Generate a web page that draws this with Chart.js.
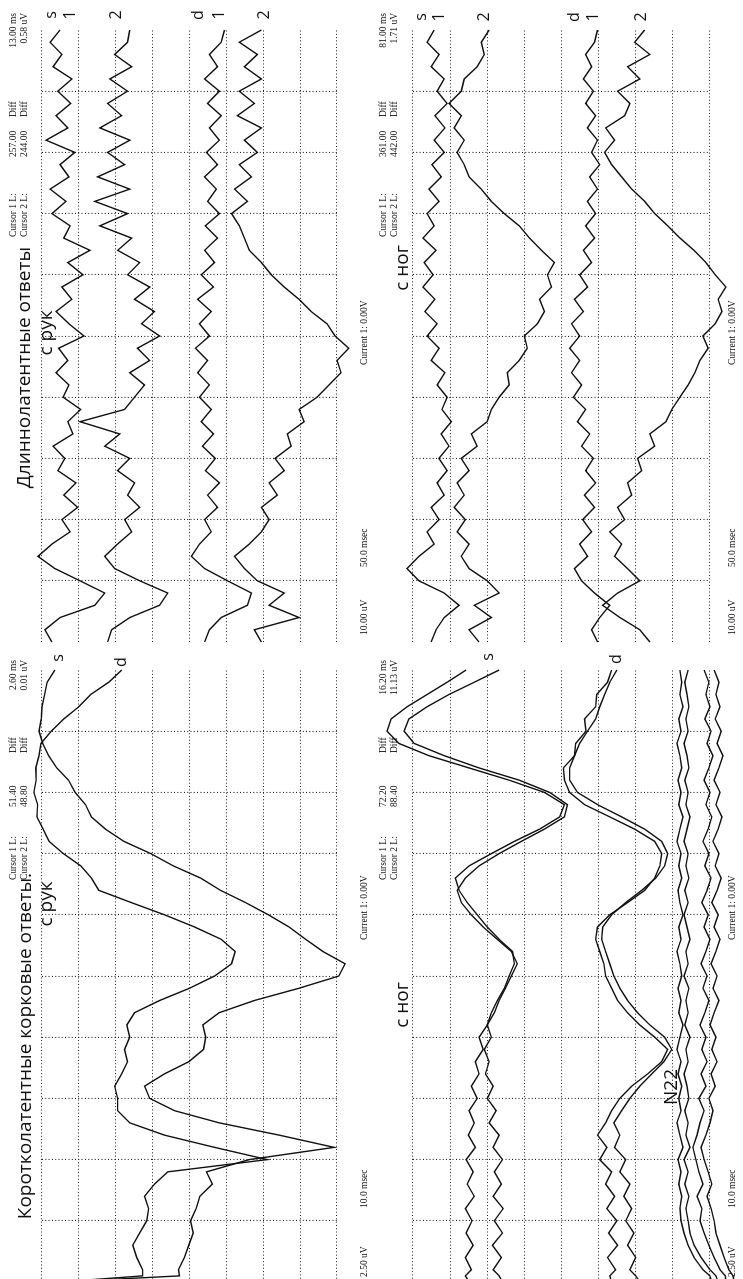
<!DOCTYPE html>
<html>
<head>
<meta charset="utf-8">
<script src="https://cdn.jsdelivr.net/npm/chart.js@4.4.1/dist/chart.umd.min.js"></script>
<style>
html, body { margin: 0; padding: 0; background: #fff; }
body { width: 743px; height: 1279px; overflow: hidden; position: relative; }
/* the figure is laid out landscape, then turned a quarter turn counter-clockwise */
#fig { position: absolute; left: 0; top: 0; width: 1279px; height: 743px; transform-origin: 0 0; transform: translateY(1279px) rotate(-90deg); }
#fig canvas { position: absolute; }
.t { position: absolute; white-space: nowrap; line-height: 1; color: #111; }
.title { font-family: "Open Sans", sans-serif; font-size: 19px; transform: translateY(-50%); }
.sub { font-family: "Open Sans", sans-serif; font-size: 19px; transform: translate(-50%, -50%); }
.small { font-family: "Liberation Serif", serif; font-size: 9.5px; transform: translateY(-50%); }
.lab { font-family: "Open Sans", sans-serif; font-size: 16px; transform: translate(-50%, -50%); }
</style>
</head>
<body>
<div id="fig">
  <canvas id="shortHand" width="622" height="375" style="left:-3px;top:0"></canvas>
  <canvas id="longHand" width="640" height="375" style="left:630px;top:0"></canvas>
  <canvas id="shortLeg" width="622" height="368" style="left:-3px;top:375px"></canvas>
  <canvas id="longLeg" width="640" height="368" style="left:630px;top:375px"></canvas>
</div>
<script>
// time axes, ms
const T_SHORT = [0,1,2,4,6,8,10,12,14,16,18,20,22,24,26,28,30,32,34,36,38,40,42,44,46,48,50,52,54,56,58,60,62,64,66,68,70,72,74,76,78,80,82,84,86,88,90,92,94,96,98,100];
const T_LONG = [0,10,20,30,40,50,60,70,80,90,100,110,120,130,140,150,160,170,180,190,200,210,220,230,240,250,260,270,280,290,300,310,320,330,340,350,360,370,380,390,400,410,420,430,440,450,460,470,480,490,500];

// amplitudes in screen divisions (up = negative polarity)
// short latency, hands (2.50 uV/div)
const HAND_SHORT_S = [3.51,0.27,0.30,0.14,0.02,-0.10,-0.03,-0.18,-0.28,-0.62,-0.46,-1.62,-3.92,-2.43,-0.81,0.41,1.08,1.22,0.68,0.02,-0.38,-0.44,-0.36,-0.80,-1.76,-2.97,-4.05,-4.22,-3.62,-3.15,-2.70,-2.14,-1.52,-0.84,-0.30,0.44,1.05,1.78,2.28,2.66,2.82,3.10,3.28,3.60,3.82,3.98,4.08,4.02,4.00,3.93,3.86,3.65];
const HAND_SHORT_D = [3.51,1.27,1.27,1.43,1.54,1.35,1.16,1.11,1.22,0.95,0.59,-2.11,-0.68,0.68,1.62,1.95,1.95,2.03,1.84,1.68,1.76,1.62,1.70,1.49,0.81,0.00,-0.68,-1.14,-1.24,-0.86,-0.14,0.68,1.58,2.46,2.66,2.95,3.42,3.81,3.97,4.14,4.12,4.22,4.16,4.17,4.08,4.03,3.75,3.41,3.00,2.68,2.19,1.84];

// short latency, legs
const LEG_SHORT_S1 = [2.49,2.59,2.43,2.59,2.38,2.57,2.41,2.59,2.35,2.54,2.38,2.57,2.32,2.51,2.35,2.49,2.27,2.43,2.22,2.32,2.11,2.22,2.00,1.89,1.73,1.54,1.41,1.27,1.32,1.68,2.00,2.27,2.54,2.76,2.86,2.49,1.89,1.27,0.59,0.05,-0.08,0.46,1.41,2.49,3.57,4.38,4.70,4.59,4.16,3.62,3.08,2.57];
const LEG_SHORT_S2 = [1.59,1.68,1.84,1.62,1.86,1.59,1.81,1.57,1.84,1.62,1.81,1.59,1.84,1.68,1.95,1.76,2.00,1.84,2.05,1.95,2.08,1.89,2.00,1.81,1.68,1.51,1.35,1.19,1.35,1.73,2.11,2.43,2.70,2.81,2.59,2.22,1.68,1.08,0.46,-0.08,-0.16,0.32,1.14,2.22,3.16,3.97,4.24,4.11,3.62,3.03,2.35,1.68];
const LEG_SHORT_D1 = [-1.35,-1.30,-1.46,-1.24,-1.51,-1.27,-1.49,-1.22,-1.43,-1.19,-1.35,-1.03,-1.22,-0.97,-1.19,-1.35,-1.57,-1.89,-2.32,-2.70,-2.86,-2.51,-2.11,-1.78,-1.51,-1.35,-1.19,-1.14,-1.03,-0.92,-0.97,-1.30,-1.78,-2.24,-2.51,-2.65,-2.70,-2.51,-1.97,-1.30,-0.62,-0.22,-0.08,-0.05,-0.35,-0.38,-0.66,-0.62,-0.92,-0.95,-1.24,-1.35];
const LEG_SHORT_D2 = [-2.11,-2.00,-1.84,-2.00,-1.78,-1.95,-1.73,-1.89,-1.68,-1.84,-1.57,-1.73,-1.43,-1.57,-1.41,-1.62,-1.84,-2.11,-2.43,-2.76,-2.97,-2.78,-2.38,-2.05,-1.78,-1.57,-1.41,-1.30,-1.19,-1.08,-1.11,-1.35,-1.73,-2.16,-2.54,-2.78,-2.86,-2.70,-2.24,-1.62,-0.97,-0.43,-0.22,-0.22,-0.35,-0.49,-0.70,-0.92,-1.03,-1.16,-1.30,-1.49];
const LEG_SHORT_N1 = [-4.05,-4.00,-3.81,-3.57,-3.41,-3.30,-3.22,-3.19,-3.24,-3.16,-3.22,-3.14,-3.27,-3.19,-3.11,-3.22,-3.16,-3.24,-3.14,-3.22,-3.11,-3.19,-3.27,-3.16,-3.22,-3.14,-3.24,-3.19,-3.11,-3.22,-3.16,-3.27,-3.19,-3.14,-3.24,-3.16,-3.22,-3.11,-3.19,-3.27,-3.16,-3.22,-3.14,-3.24,-3.19,-3.11,-3.22,-3.16,-3.27,-3.19,-3.24,-3.19];
const LEG_SHORT_N2 = [-4.22,-4.16,-4.00,-3.76,-3.57,-3.46,-3.41,-3.35,-3.43,-3.32,-3.41,-3.30,-3.46,-3.35,-3.41,-3.32,-3.43,-3.38,-3.30,-3.41,-3.35,-3.46,-3.32,-3.41,-3.35,-3.43,-3.30,-3.41,-3.35,-3.46,-3.38,-3.30,-3.41,-3.32,-3.43,-3.35,-3.41,-3.30,-3.38,-3.46,-3.35,-3.41,-3.32,-3.43,-3.38,-3.30,-3.41,-3.35,-3.43,-3.38,-3.32,-3.41];
const LEG_SHORT_N3 = [-4.43,-4.41,-4.27,-4.11,-3.97,-3.84,-3.73,-3.78,-3.65,-3.81,-3.70,-3.62,-3.54,-3.65,-3.73,-3.84,-3.70,-3.89,-3.76,-3.92,-3.78,-3.89,-3.73,-3.86,-3.97,-3.81,-3.92,-3.76,-3.89,-4.00,-3.84,-3.95,-3.78,-3.92,-4.03,-3.86,-3.97,-3.81,-3.95,-4.05,-3.89,-4.00,-3.84,-3.97,-4.08,-3.92,-4.03,-3.86,-4.00,-3.89,-3.97,-3.84];
const LEG_SHORT_N4 = [-4.65,-4.62,-4.51,-4.38,-4.27,-4.16,-4.11,-4.03,-3.92,-4.05,-3.95,-3.84,-3.76,-3.89,-4.00,-4.08,-3.97,-4.14,-4.03,-4.19,-4.05,-4.16,-4.00,-4.11,-4.24,-4.08,-4.19,-4.03,-4.16,-4.27,-4.11,-4.22,-4.05,-4.19,-4.30,-4.14,-4.24,-4.08,-4.22,-4.32,-4.16,-4.27,-4.11,-4.24,-4.35,-4.19,-4.30,-4.14,-4.27,-4.16,-4.24,-4.11];

// long latency, hands (10.00 uV/div)
const HAND_LONG_S1 = [3.73,3.92,3.51,2.57,2.30,2.97,3.65,4.11,3.73,3.24,3.46,3.03,3.41,3.08,3.57,3.38,3.70,3.16,3.30,2.95,3.43,3.27,3.62,3.30,3.55,2.86,3.27,3.62,3.19,3.46,2.89,3.30,2.70,3.41,3.24,3.73,3.35,3.78,3.27,3.51,3.11,3.89,3.30,3.62,3.22,3.57,3.19,3.70,3.46,3.78,3.51];
const HAND_LONG_S2 = [2.22,2.11,1.62,0.81,0.59,1.35,2.03,2.30,1.95,1.57,1.76,1.35,1.68,1.49,1.95,1.62,2.30,1.89,2.97,1.76,1.49,1.22,1.62,1.08,1.41,0.81,1.30,0.95,1.49,1.08,1.68,1.35,1.95,1.57,2.43,1.68,2.57,1.62,2.49,1.76,2.22,1.62,2.43,1.84,2.22,1.68,2.16,1.57,2.03,1.68,1.62];
const HAND_LONG_D1 = [-0.41,-0.54,-0.86,-1.57,-1.68,-1.03,-0.41,-0.05,-0.27,-0.59,-0.41,-0.76,-0.49,-0.81,-0.43,-0.70,-0.35,-0.65,-0.32,-0.59,-0.27,-0.54,-0.22,-0.49,-0.16,-0.54,-0.27,-0.59,-0.22,-0.65,-0.32,-0.68,-0.41,-0.76,-0.43,-0.81,-0.49,-0.73,-0.41,-0.76,-0.46,-0.81,-0.54,-0.86,-0.49,-0.81,-0.41,-0.76,-0.54,-0.86,-0.95];
const HAND_LONG_D2 = [-1.95,-1.76,-2.97,-2.16,-2.57,-1.84,-1.49,-1.22,-1.62,-1.95,-2.16,-1.95,-2.38,-2.16,-2.57,-2.32,-2.76,-2.65,-3.11,-2.97,-3.46,-3.78,-4.11,-4.00,-4.32,-3.95,-3.73,-3.30,-2.97,-2.57,-2.22,-1.95,-1.62,-1.49,-1.35,-1.14,-1.57,-1.22,-1.68,-1.35,-1.84,-1.49,-1.95,-1.30,-1.76,-1.35,-1.95,-1.49,-1.84,-1.35,-1.95];

// long latency, legs
const LEG_LONG_S1 = [3.51,3.38,3.16,2.76,3.16,3.84,4.16,3.84,3.43,3.62,3.30,3.51,3.16,3.35,3.08,3.30,3.03,3.24,2.97,3.22,3.08,3.35,3.14,3.51,3.30,3.62,3.35,3.68,3.41,3.73,3.46,3.70,3.38,3.73,3.43,3.62,3.30,3.57,3.24,3.49,3.16,3.43,3.14,3.41,3.08,3.35,3.16,3.51,3.30,3.62,3.43];
const LEG_LONG_S2 = [2.22,2.49,1.89,2.35,1.68,2.00,2.49,2.70,2.49,2.81,2.59,2.89,2.62,2.81,2.49,2.70,2.27,2.43,2.00,1.89,1.68,1.41,1.46,1.14,0.92,1.00,0.65,0.46,0.59,0.27,0.38,0.19,0.54,0.86,1.14,1.54,1.89,2.16,2.49,2.62,2.81,2.62,2.89,2.70,3.03,2.70,2.62,2.27,2.08,2.16,1.95];
const LEG_LONG_D1 = [-0.97,-0.81,-1.03,-1.30,-0.89,-0.54,-0.35,-0.70,-0.49,-0.81,-0.57,-0.89,-0.62,-0.92,-0.65,-0.86,-0.54,-0.76,-0.43,-0.65,-0.32,-0.54,-0.27,-0.49,-0.22,-0.49,-0.27,-0.59,-0.35,-0.70,-0.49,-0.81,-0.59,-0.89,-0.65,-0.92,-0.70,-0.97,-0.76,-1.03,-0.81,-0.97,-0.70,-0.92,-0.65,-0.86,-0.59,-0.81,-0.65,-0.89,-0.97];
const LEG_LONG_D2 = [-2.38,-2.11,-1.57,-1.11,-1.51,-2.11,-1.78,-1.43,-1.62,-1.30,-1.70,-1.51,-1.89,-1.78,-2.16,-2.05,-2.51,-2.38,-2.81,-2.97,-3.19,-3.41,-3.59,-3.73,-3.95,-3.81,-4.14,-4.32,-4.22,-4.43,-4.14,-3.89,-3.57,-3.19,-2.86,-2.51,-2.24,-1.89,-1.62,-1.35,-1.16,-1.43,-1.19,-1.70,-1.84,-1.51,-2.11,-1.78,-2.38,-1.97,-2.24];

// text on the figure: [text, x, y, class, anchor]
const LABELS = [
  ['Коротколатентные корковые ответы.', 873, 24, 'title', 'right'],
  ['Длиннолатентные ответы', 247, 23, 'title', 'right'],
  ['с рук', 375, 45, 'sub'],
  ['с рук', 946, 45, 'sub'],
  ['с ног', 274, 401, 'sub'],
  ['с ног', 1011, 401, 'sub'],
  ['N22', 192, 670, 'sub'],
  ['s', 621, 57, 'lab'], ['d', 617, 120, 'lab'],
  ['s', 622, 487, 'lab'], ['d', 620, 615, 'lab'],
  ['s', 1264, 50, 'lab'], ['1', 1264, 69, 'lab'], ['2', 1264, 115, 'lab'],
  ['d', 1264, 197, 'lab'], ['1', 1264, 218, 'lab'], ['2', 1264, 263, 'lab'],
  ['s', 1262, 420, 'lab'], ['1', 1262, 438, 'lab'], ['2', 1262, 483, 'lab'],
  ['d', 1262, 573, 'lab'], ['1', 1262, 592, 'lab'], ['2', 1262, 640, 'lab']
];

// cursor read-outs, one block per panel
const CURSORS = [
  { col: 'short', row: 0, c1: '51.40', c2: '48.80', d1: '2.60 ms', d2: '0.01 uV', gain: '2.50 uV', sweep: '10.0 msec' },
  { col: 'long', row: 0, c1: '257.00', c2: '244.00', d1: '13.00 ms', d2: '0.58 uV', gain: '10.00 uV', sweep: '50.0 msec' },
  { col: 'short', row: 1, c1: '72.20', c2: '88.40', d1: '16.20 ms', d2: '11.13 uV', gain: '2.50 uV', sweep: '10.0 msec' },
  { col: 'long', row: 1, c1: '361.00', c2: '442.00', d1: '81.00 ms', d2: '1.71 uV', gain: '10.00 uV', sweep: '50.0 msec' }
];

const fig = document.getElementById('fig');

function addText(text, x, y, cls, anchor) {
    const el = document.createElement('div');
    el.className = 't ' + cls;
    el.textContent = text;
    if (anchor === 'right') el.style.right = x + 'px';
    else el.style.left = x + 'px';
    el.style.top = y + 'px';
    fig.appendChild(el);
}

LABELS.forEach(l => addText(l[0], l[1], l[2], l[3], l[4]));

CURSORS.forEach(c => {
    const xs = c.col === 'short' ? [399, 472, 526, 660, 2, 71, 339] : [1042, 1122, 1162, 13, 644, 712, 914];
    const y1 = c.row === 0 ? 13.5 : 384;
    const y2 = c.row === 0 ? 24.5 : 395;
    const yb = c.row === 0 ? 365 : 733;
    addText('Cursor 1 L:', xs[0], y1, 'small');
    addText('Cursor 2 L:', xs[0], y2, 'small');
    addText(c.c1, xs[1], y1, 'small');
    addText(c.c2, xs[1], y2, 'small');
    addText('Diff', xs[2], y1, 'small');
    addText('Diff', xs[2], y2, 'small');
    addText(c.d1, xs[3], y1, 'small', 'right');
    addText(c.d2, xs[3], y2, 'small', 'right');
    addText(c.gain, xs[4], yb, 'small');
    addText(c.sweep, xs[5], yb, 'small');
    addText('Current 1: 0.00V', xs[6], yb, 'small');
});

function makePanel(id, times, traces, tMax, padding) {
    const dotted = '#1e1e1e';
    new Chart(document.getElementById(id), {
        type: 'line',
        data: {
            datasets: traces.map(values => ({
                data: times.map((t, i) => ({ x: t, y: values[i] })),
                borderColor: '#111',
                borderWidth: 1.4,
                pointRadius: 0,
                tension: 0,
                clip: false
            }))
        },
        options: {
            responsive: false,
            animation: false,
            events: [],
            layout: { padding: padding },
            plugins: { legend: { display: false }, tooltip: { enabled: false } },
            scales: {
                x: {
                    type: 'linear', min: 0, max: tMax,
                    ticks: { display: false, stepSize: tMax / 10 },
                    grid: {
                        drawTicks: false, lineWidth: 1.1,
                        color: c => (c.tick && (c.tick.value === 0 || c.tick.value === tMax)) ? 'rgba(0,0,0,0)' : dotted
                    },
                    border: { display: false, dash: [1, 2.3] },
                    afterFit: s => { s.height = 0; }
                },
                y: {
                    min: -4, max: 4,
                    ticks: { display: false, stepSize: 1 },
                    grid: { drawTicks: false, lineWidth: 1.1, color: dotted },
                    border: { display: false, dash: [1, 2.3] },
                    afterFit: s => { s.width = 0; }
                }
            }
        }
    });
}

makePanel('shortHand', T_SHORT, [HAND_SHORT_S, HAND_SHORT_D], 100, { left: 0, right: 10, top: 42, bottom: 38 });
makePanel('longHand', T_LONG, [HAND_LONG_S1, HAND_LONG_S2, HAND_LONG_D1, HAND_LONG_D2], 500, { left: 7, right: 21, top: 42, bottom: 38 });
makePanel('shortLeg', T_SHORT, [LEG_SHORT_S1, LEG_SHORT_S2, LEG_SHORT_D1, LEG_SHORT_D2, LEG_SHORT_N1, LEG_SHORT_N2, LEG_SHORT_N3, LEG_SHORT_N4], 100, { left: 0, right: 10, top: 38, bottom: 33 });
makePanel('longLeg', T_LONG, [LEG_LONG_S1, LEG_LONG_S2, LEG_LONG_D1, LEG_LONG_D2], 500, { left: 7, right: 21, top: 38, bottom: 33 });
</script>
</body>
</html>
